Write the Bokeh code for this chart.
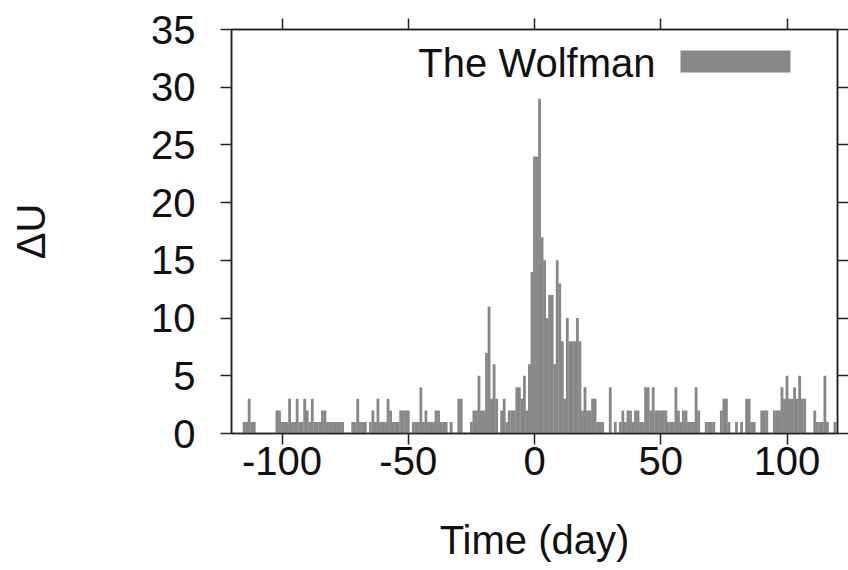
from bokeh.plotting import figure
from bokeh.models import (Range1d, FixedTicker, LinearAxis, Label, BoxAnnotation,
                          ColumnDataSource)
from bokeh.embed import file_html
from bokeh.resources import INLINE

# Daily change in U around the release day (day 0), one value per day
days = list(range(-120, 120))
delta_u = [
    # -120 .. -101
    0, 0, 0, 0, 0, 1, 1, 3, 1, 1, 0, 0, 0, 0, 0, 0, 0, 0, 2, 2,
    # -100 .. -81
    1, 1, 1, 3, 1, 1, 3, 1, 1, 3, 2, 1, 3, 1, 1, 1, 2, 2, 1, 1,
    # -80 .. -61
    1, 1, 1, 1, 1, 0, 0, 0, 1, 1, 3, 1, 1, 1, 0, 1, 2, 1, 3, 1,
    # -60 .. -41
    1, 1, 3, 2, 1, 1, 1, 2, 2, 2, 2, 0, 1, 1, 1, 4, 1, 2, 1, 1,
    # -40 .. -21
    1, 2, 2, 1, 1, 1, 0, 1, 0, 0, 3, 3, 0, 0, 0, 1, 2, 2, 5, 2,
    # -20 .. -1
    2, 7, 11, 3, 6, 3, 0, 2, 3, 1, 2, 2, 2, 4, 4, 3, 5, 2, 6, 14,
    # 0 .. 19
    24, 24, 29, 17, 15, 10, 12, 12, 6, 15, 13, 8, 3, 10, 8, 8, 8, 10, 8, 2,
    # 20 .. 39
    4, 2, 2, 3, 3, 1, 1, 1, 0, 0, 4, 0, 1, 0, 1, 2, 1, 2, 2, 1,
    # 40 .. 59
    2, 2, 1, 1, 4, 4, 2, 4, 2, 2, 2, 2, 2, 1, 1, 1, 4, 2, 1, 2,
    # 60 .. 79
    2, 1, 1, 1, 4, 2, 0, 0, 1, 1, 1, 1, 0, 0, 2, 3, 3, 1, 0, 0,
    # 80 .. 99
    1, 0, 1, 0, 3, 3, 1, 1, 0, 0, 2, 2, 2, 0, 0, 2, 2, 2, 4, 3,
    # 100 .. 119
    5, 3, 3, 4, 3, 5, 3, 3, 0, 0, 0, 2, 1, 1, 1, 5, 1, 0, 0, 1,
]
x_ticks = [-100, -50, 0, 50, 100]
x_tick_labels = {t: str(t) for t in x_ticks}   # plain hyphen for negatives
y_ticks = [0, 5, 10, 15, 20, 25, 30, 35]
series_name = "The Wolfman"

FONT = "Liberation Sans"
BAR_COLOR = "#888888"
INK = "#222222"

p = figure(width=848, height=570, output_backend="svg", toolbar_location=None,
           x_range=Range1d(-120, 120), y_range=Range1d(0, 35),
           x_axis_label="Time (day)", y_axis_label="\u0394U",
           min_border_left=231, min_border_right=10,
           min_border_top=29, min_border_bottom=137)
p.grid.visible = False
p.background_fill_color = "white"
p.border_fill_color = "white"
p.outline_line_color = INK
p.outline_line_width = 1.5

# slightly overlapping boxes so neighbouring days merge into solid blocks
src = ColumnDataSource(dict(day=days, du=delta_u))
p.vbar(x="day", top="du", width=1.12, source=src,
       fill_color=BAR_COLOR, line_color=None)


def style_axis(ax, ticks, show_labels):
    ax.ticker = FixedTicker(ticks=ticks)
    ax.minor_tick_line_color = None
    ax.major_tick_in = 0
    ax.major_tick_out = 11
    ax.major_tick_line_color = INK
    ax.major_tick_line_width = 1.5
    ax.axis_line_color = INK
    ax.axis_line_width = 1.5
    if show_labels:
        ax.major_label_text_font = FONT
        ax.major_label_text_font_size = "40px"
        ax.major_label_text_color = "#111111"
    else:
        # mirrored tick marks only, no numbers
        ax.major_label_text_color = None
        ax.major_label_text_font_size = "1px"
        ax.major_label_standoff = 0


xb = p.xaxis[0]
yl = p.yaxis[0]
style_axis(xb, x_ticks, True)
style_axis(yl, y_ticks, True)
xb.major_label_overrides = x_tick_labels
xb.major_label_standoff = 2
yl.major_label_standoff = 25
for ax in (xb, yl):
    ax.axis_label_text_font = FONT
    ax.axis_label_text_font_size = "40px"
    ax.axis_label_text_font_style = "normal"
    ax.axis_label_text_color = "#111111"
xb.axis_label_standoff = 40
yl.axis_label_standoff = 95

top_ax = LinearAxis()
right_ax = LinearAxis()
style_axis(top_ax, x_ticks, False)
style_axis(right_ax, y_ticks, False)
p.add_layout(top_ax, "above")
p.add_layout(right_ax, "right")

# key: name on the left, filled sample on the right
p.add_layout(Label(x=424, y=371, x_units="screen", y_units="screen",
                   text=series_name, text_align="right", text_baseline="middle",
                   text_font=FONT, text_font_size="40px", text_color="#111111"))
p.add_layout(BoxAnnotation(left=449, right=559, bottom=361, top=383,
                           left_units="screen", right_units="screen",
                           bottom_units="screen", top_units="screen",
                           fill_color=BAR_COLOR, fill_alpha=1.0, line_color=None))

open("out.html", "w").write(file_html(p, INLINE))
